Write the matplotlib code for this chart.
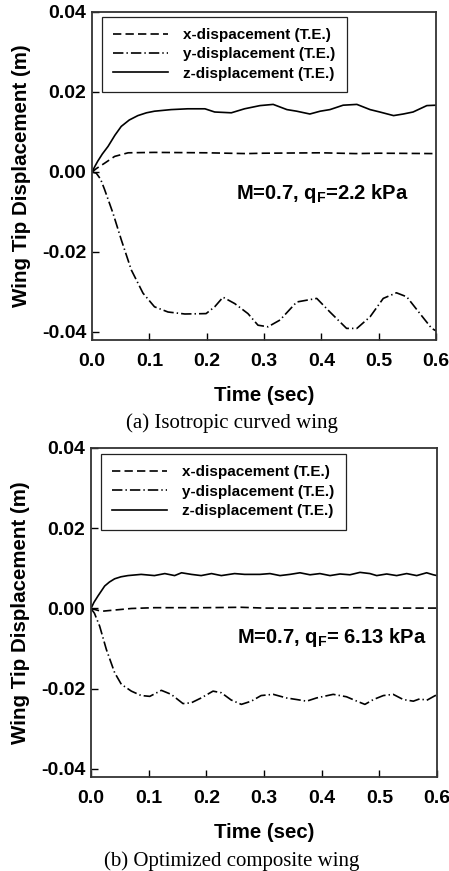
import matplotlib
matplotlib.use("Agg")
import matplotlib.pyplot as plt

plt.rcParams['font.family'] = ['Liberation Sans', 'DejaVu Sans']
plt.rcParams['font.weight'] = 'bold'
plt.rcParams['mathtext.fontset'] = 'custom'
plt.rcParams['mathtext.rm'] = 'Liberation Sans:bold'
plt.rcParams['mathtext.it'] = 'Liberation Sans:bold'
plt.rcParams['mathtext.bf'] = 'Liberation Sans:bold'
plt.rcParams['lines.scale_dashes'] = False

# ---------------- data: (a) isotropic curved wing ----------------
t_a_x = [0, 0.008, 0.022, 0.0395, 0.063, 0.109, 0.2, 0.27, 0.3, 0.4, 0.46, 0.5, 0.6]
x_a = [0, 0.0009, 0.0022, 0.0039, 0.0048, 0.0049, 0.0048, 0.0046, 0.0047, 0.0048, 0.0046, 0.0047, 0.0046]

t_a_y = [0, 0.0075, 0.015, 0.022, 0.0366, 0.0512, 0.0686, 0.089, 0.109, 0.1326, 0.162, 0.199, 0.214,
         0.2285, 0.249, 0.272, 0.2895, 0.307, 0.328, 0.357, 0.392, 0.415, 0.444, 0.462, 0.485,
         0.508, 0.531, 0.549, 0.572, 0.5925, 0.6]
y_a = [0, -0.0003, -0.0018, -0.0044, -0.0103, -0.0170, -0.0245, -0.0303, -0.0337, -0.0350, -0.0355,
       -0.0354, -0.0337, -0.0313, -0.0329, -0.0354, -0.0383, -0.0387, -0.0370, -0.0325, -0.0316,
       -0.0350, -0.0391, -0.0391, -0.0362, -0.0316, -0.0302, -0.0312, -0.0354, -0.0391, -0.0397]

t_a_z = [0, 0.005, 0.01, 0.018, 0.028, 0.04, 0.051, 0.065, 0.080, 0.095, 0.109, 0.138, 0.167, 0.197,
         0.214, 0.243, 0.266, 0.293, 0.316, 0.340, 0.357, 0.380, 0.398, 0.415, 0.438, 0.462, 0.485,
         0.502, 0.526, 0.543, 0.560, 0.584, 0.6]
z_a = [0, 0.0014, 0.0027, 0.0045, 0.0064, 0.0092, 0.0114, 0.0130, 0.0141, 0.0148, 0.0152, 0.0156,
       0.0158, 0.0158, 0.0150, 0.0148, 0.0158, 0.0166, 0.0169, 0.0156, 0.0152, 0.0145, 0.0152,
       0.0156, 0.0167, 0.0169, 0.0156, 0.0150, 0.0141, 0.0145, 0.0150, 0.0166, 0.0167]

# ---------------- data: (b) optimized composite wing ----------------
t_b_x = [0, 0.018, 0.04, 0.07, 0.11, 0.2, 0.26, 0.3, 0.4, 0.47, 0.5, 0.6]
x_b = [0, -0.0007, -0.0004, 0.0, 0.0002, 0.0002, 0.0003, 0.0001, 0.0001, 0.0002, 0.0001, 0.0001]

t_b_y = [0, 0.006, 0.015, 0.0266, 0.041, 0.0526, 0.070, 0.087, 0.102, 0.122, 0.139, 0.1595, 0.174,
         0.191, 0.2116, 0.226, 0.243, 0.2607, 0.278, 0.295, 0.316, 0.339, 0.357, 0.374, 0.391,
         0.420, 0.443, 0.461, 0.475, 0.4896, 0.507, 0.524, 0.5416, 0.559, 0.5705, 0.582, 0.597, 0.6]
y_b = [0, -0.0012, -0.0044, -0.0102, -0.0160, -0.0189, -0.0206, -0.0217, -0.0219, -0.0204, -0.0214,
       -0.0237, -0.0235, -0.0223, -0.0206, -0.0210, -0.0228, -0.0239, -0.0231, -0.0217, -0.0214,
       -0.0223, -0.0227, -0.0231, -0.0223, -0.0214, -0.0220, -0.0231, -0.0239, -0.0227, -0.0217,
       -0.0214, -0.0227, -0.0231, -0.0225, -0.0229, -0.0217, -0.0217]

t_b_z = [0, 0.005, 0.012, 0.0237, 0.032, 0.041, 0.052, 0.064, 0.087, 0.110, 0.128, 0.145, 0.157,
         0.174, 0.191, 0.209, 0.226, 0.249, 0.2665, 0.293, 0.3104, 0.3277, 0.345, 0.3624, 0.3798,
         0.397, 0.4145, 0.4318, 0.449, 0.4665, 0.4838, 0.4954, 0.5128, 0.530, 0.5474, 0.5648,
         0.582, 0.5936, 0.6]
z_b = [0, 0.0015, 0.0031, 0.0056, 0.0066, 0.0074, 0.0079, 0.0082, 0.0085, 0.0082, 0.0087, 0.0082,
       0.0089, 0.0085, 0.0082, 0.0087, 0.0082, 0.0087, 0.0085, 0.0085, 0.0087, 0.0082, 0.0085,
       0.0089, 0.0084, 0.0087, 0.0082, 0.0086, 0.0084, 0.0090, 0.0087, 0.0082, 0.0086, 0.0082,
       0.0087, 0.0082, 0.0089, 0.0084, 0.0082]

labels = ['x-dispacement (T.E.)', 'y-displacement (T.E.)', 'z-displacement (T.E.)']
xticks = [0.0, 0.1, 0.2, 0.3, 0.4, 0.5, 0.6]
yticks = [-0.04, -0.02, 0.00, 0.02, 0.04]
annot_a = r'M=0.7, q$_{\mathrm{F}}$=2.2 kPa'
annot_b = r'M=0.7, q$_{\mathrm{F}}$= 6.13 kPa'
caption_a = '(a) Isotropic curved wing'
caption_b = '(b) Optimized composite wing'

W, H = 449, 871
fig = plt.figure(figsize=(W / 100, H / 100), dpi=100)

panels = [
    dict(rect=[92 / W, (H - 340) / H, 344 / W, 328 / H], tx=t_a_x, x=x_a, ty=t_a_y, y=y_a,
         tz=t_a_z, z=z_a, annot=annot_a, annot_pos=(0.2506, -0.0068), caption=caption_a,
         cap_y=(H - 423) / H, leg_top=0.986),
    dict(rect=[91 / W, (H - 777) / H, 346 / W, 329 / H], tx=t_b_x, x=x_b, ty=t_b_y, y=y_b,
         tz=t_b_z, z=z_b, annot=annot_b, annot_pos=(0.253, -0.00855), caption=caption_b,
         cap_y=(H - 861) / H, leg_top=0.982),
]

for p in panels:
    ax = fig.add_axes(p['rect'])
    ax.plot(p['tx'], p['x'], color='black', lw=1.2, linestyle=(0, (6.0, 3.0)), label=labels[0])
    ax.plot(p['ty'], p['y'], color='black', lw=1.2, linestyle=(0, (7.5, 2.2, 1.0, 2.2)), label=labels[1])
    ax.plot(p['tz'], p['z'], color='black', lw=1.2, linestyle='-', label=labels[2])
    ax.set_xlim(0, 0.6)
    ax.set_ylim(-0.042, 0.04)
    ax.set_xticks(xticks)
    ax.set_xticklabels(['%.1f' % v for v in xticks])
    ax.set_yticks(yticks)
    ax.set_yticklabels(['%.2f' % v for v in yticks])
    ax.tick_params(direction='in', length=5, width=1.0, labelsize=14, colors='black')
    ax.tick_params(axis='x', pad=9)
    ax.tick_params(axis='y', pad=4)
    for s in ax.spines.values():
        s.set_linewidth(1.3)
        s.set_color('#333333')
    ax.set_xlabel('Time (sec)', fontsize=14.7, fontweight='bold', labelpad=12)
    ax.set_ylabel('Wing Tip Displacement (m)', fontsize=14.8, fontweight='bold')
    ax.yaxis.set_label_coords(-0.177, 0.5)
    leg = ax.legend(loc='upper left', bbox_to_anchor=(0.029, p['leg_top']), borderaxespad=0,
                    fontsize=11, handlelength=3.6, handletextpad=0.95, borderpad=0.75,
                    labelspacing=0.35, frameon=True, fancybox=False, framealpha=1,
                    edgecolor='#222222')
    leg.get_frame().set_linewidth(0.9)
    ax.text(p['annot_pos'][0], p['annot_pos'][1], p['annot'], fontsize=14.5, fontweight='bold',
            ha='left', va='baseline')
    fig.text(0.516, p['cap_y'], p['caption'], fontsize=15, family='Liberation Serif',
             fontweight='normal', ha='center', va='center')

fig.savefig('out.png', dpi=100)
